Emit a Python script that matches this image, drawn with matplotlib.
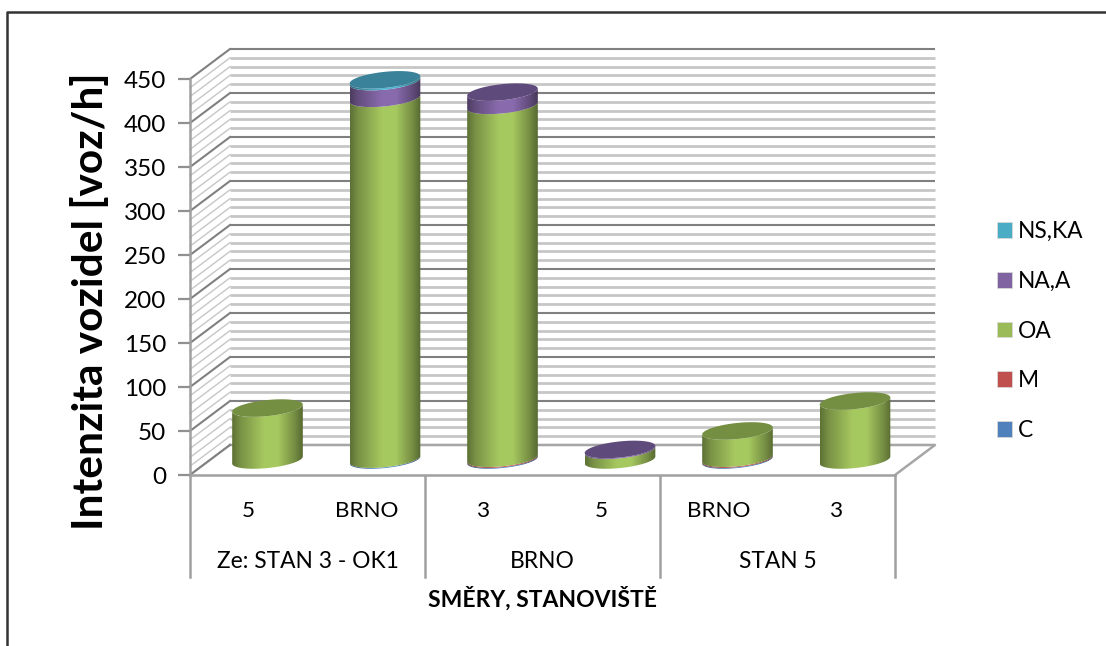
import numpy as np
import matplotlib
matplotlib.use("Agg")
import matplotlib.pyplot as plt
from matplotlib.patches import Polygon, Patch
from matplotlib.lines import Line2D
from matplotlib.transforms import blended_transform_factory

plt.rcParams['font.family'] = ['Lato', 'DejaVu Sans']

# ---- data ----
directions = ['5', 'BRNO', '3', '5', 'BRNO', '3']
groups = ['Ze: STAN 3 - OK1', 'BRNO', 'STAN 5']
series_names = ['C', 'M', 'OA', 'NA,A', 'NS,KA']
C = [0, 1, 1, 0, 1, 0]
M = [0, 0, 1, 0, 1, 0]
OA = [59, 410, 401, 11, 31, 67]
NA_A = [0, 19, 15, 1, 0, 0]
NS_KA = [0, 2, 0, 0, 0, 0]
y_ticks = [0, 50, 100, 150, 200, 250, 300, 350, 400, 450]
minor_ticks = [v for v in range(0, 451, 10) if v % 50]

series_values = [C, M, OA, NA_A, NS_KA]
colors = ['#4F81BD', '#C0504D', '#9BBB59', '#8064A2', '#4BACC6']
cap_colors = ['#3E6593', '#953D3A', '#748F42', '#5F4A7C', '#3A8299']

W, H = 1106, 646
L_PX, R_PX, T_PX, B_PX = 190, 895, 79, 475
fig = plt.figure(figsize=(W / 100, H / 100), dpi=100, facecolor='white')
ax = fig.add_axes([L_PX / W, 1 - B_PX / H, (R_PX - L_PX) / W, (B_PX - T_PX) / H])
n = len(directions)
ax.set_xlim(0, n)
ax.set_ylim(0, 450)
ax.set_facecolor('none')

px_x = (R_PX - L_PX) / n      # pixels per category
px_y = (B_PX - T_PX) / 450    # pixels per unit of value
depth_x = 40 / px_x
depth_y = 30 / px_y
mid_x = 18.75 / px_x
mid_y = 15 / px_y
GRID_MAJOR = '#808080'
GRID_MINOR = '#c6c6c6'

# walls and gridlines
for vals, col, lw, lw_side, z in ((minor_ticks, GRID_MINOR, 2.0, 1.0, 1), (y_ticks, GRID_MAJOR, 1.5, 1.5, 2)):
    for v in vals:
        ax.plot([depth_x, n + depth_x], [v + depth_y] * 2, color=col, lw=lw, clip_on=False, zorder=z,
                solid_capstyle='butt')
        ax.plot([0, depth_x], [v, v + depth_y], color=col, lw=lw_side, clip_on=False, zorder=z)
# floor
ax.fill([0, n, n + depth_x, depth_x], [0, 0, depth_y, depth_y], color='white', zorder=2.5, clip_on=False)
ax.plot([depth_x, n + depth_x, n], [depth_y, depth_y, 0], color='#a6a6a6', lw=1.8, clip_on=False, zorder=2.6)
ax.plot([0, depth_x], [0, depth_y], color=GRID_MAJOR, lw=1.5, clip_on=False, zorder=2.6)

# cylinders
A_PX, B_ELL, TILT = 35.5, 8.0, np.radians(6.0)
t_r = np.arctan(-(B_ELL / A_PX) * np.tan(TILT))


def ellipse(cx, v, t):
    ex = A_PX * np.cos(t) * np.cos(TILT) - B_ELL * np.sin(t) * np.sin(TILT)
    ey = A_PX * np.cos(t) * np.sin(TILT) + B_ELL * np.sin(t) * np.cos(TILT)
    return np.column_stack([cx + ex / px_x, v + ey / px_y])


def shade(color):
    rgb = np.array(matplotlib.colors.to_rgb(color))
    u = np.linspace(0, 1, 200)
    f = np.interp(u, [0, 0.12, 0.45, 0.65, 0.88, 1], [0.60, 0.78, 1.07, 1.07, 0.76, 0.56])
    return np.clip(rgb[None, None, :] * f[None, :, None], 0, 1)


lower_arc = np.linspace(t_r, t_r - np.pi, 80)
full = np.linspace(0, 2 * np.pi, 160)
half = A_PX / px_x
for i in range(n):
    cx = i + 0.5 + mid_x
    base = mid_y
    top_color = None
    z = 3 + i * 0.1
    for s, vals in enumerate(series_values):
        val = vals[i]
        if val <= 0:
            continue
        lo = ellipse(cx, base, lower_arc)
        hi = ellipse(cx, base + val, lower_arc)
        poly = Polygon(np.vstack([lo, hi[::-1]]), closed=True, transform=ax.transData, fc='none', ec='none')
        ax.add_patch(poly)
        poly.set_clip_on(False)
        im = ax.imshow(shade(colors[s]), extent=(cx - half, cx + half, base - 30, base + val + 30),
                       aspect='auto', interpolation='bilinear', zorder=z + s * 0.01)
        im.set_clip_path(poly)
        im.set_clip_box(fig.bbox)
        base += val
        top_color = cap_colors[s]
    ax.add_patch(Polygon(ellipse(cx, base, full), closed=True, fc=top_color, ec='none', zorder=z + 0.08,
                         clip_on=False))
ax.set_xlim(0, n)
ax.set_ylim(0, 450)

# axes
for sp in ('top', 'right'):
    ax.spines[sp].set_visible(False)
for sp in ('left', 'bottom'):
    ax.spines[sp].set_color('#a0a0a0')
    ax.spines[sp].set_linewidth(1.8)
    ax.spines[sp].set_zorder(2.7)
ax.set_yticks(y_ticks)
ax.tick_params(axis='y', length=9, width=1.6, color='#909090', labelsize=17.5, pad=8, labelcolor='black')
ax.set_xticks(np.arange(n) + 0.5)
ax.set_xticklabels(directions)
ax.tick_params(axis='x', length=0, labelsize=16.2, pad=18.5, labelcolor='black')

# group separators and group labels
tr = blended_transform_factory(ax.transData, ax.transAxes)
bottom = -(577 - B_PX) / (B_PX - T_PX)
group_size = n // len(groups)
for k in range(len(groups) + 1):
    ax.plot([k * group_size] * 2, [0, bottom], transform=tr, color='#a0a0a0', lw=1.8, clip_on=False)
for k, g in enumerate(groups):
    ax.text((k + 0.5) * group_size, -(561 - B_PX) / (B_PX - T_PX), g, transform=tr, ha='center', va='center',
            fontsize=16.4, color='black')

ax.set_xlabel('SMĚRY, STANOVIŠTĚ', fontsize=16.5, fontweight='bold', color='black')
ax.xaxis.set_label_coords(0.5, -(599 - B_PX) / (B_PX - T_PX), transform=ax.transAxes)
ax.xaxis.label.set_va('center')
ax.set_ylabel('Intenzita vozidel [voz/h]', fontsize=30.5, fontweight='bold', color='black')
ax.yaxis.set_label_coords(-(190 - 91) / (R_PX - L_PX), (B_PX - 301) / (B_PX - T_PX), transform=ax.transAxes)
ax.yaxis.label.set_va('center')

# legend
handles = [Patch(facecolor=c, edgecolor='#d8d8d8', lw=0.6, label=nm) for c, nm in zip(colors, series_names)][::-1]
fig.legend(handles=handles, loc='center left', bbox_to_anchor=(997 / W, 1 - 331 / H), frameon=False,
           fontsize=16.4, handlelength=0.68, handleheight=0.68, handletextpad=0.25, labelspacing=1.26,
           borderpad=0, borderaxespad=0)

# outer frame
fig.add_artist(Line2D([7 / W, 7 / W, 1], [0, 1 - 12 / H, 1 - 12 / H], color='#333333', lw=1.8,
                      transform=fig.transFigure))

fig.savefig('out.png', dpi=100, facecolor='white')
